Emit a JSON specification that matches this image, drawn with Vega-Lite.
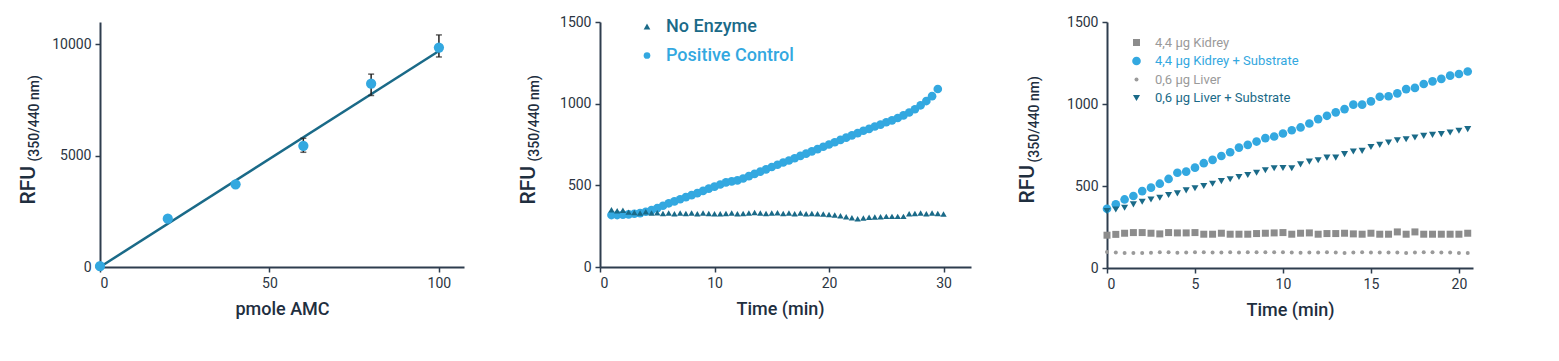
{
  "$schema": "https://vega.github.io/schema/vega-lite/v6.json",
  "background": "white",
  "padding": {"left": 17, "top": 15, "right": 5, "bottom": 5},
  "config": {
    "view": {"stroke": null},
    "font": "Roboto",
    "axis": {
      "domainColor": "#2e3d4e", "domainWidth": 2,
      "tickColor": "#2e3d4e", "tickWidth": 1.5, "tickSize": 5,
      "labelFont": "Roboto", "labelFontSize": 14, "labelColor": "#2b3542", "labelPadding": 4,
      "grid": false, "format": "d",
      "titleFont": "Roboto", "titleColor": "#1f2f3f", "titleFontWeight": 500
    },
    "axisX": {"titleFontSize": 18, "titlePadding": 10},
    "legend": {"labelFont": "Roboto", "padding": 0, "symbolStrokeWidth": 0, "title": null}
  },
  "resolve": {"scale": {"color": "independent", "shape": "independent", "size": "independent"}, "legend": {"color": "independent", "shape": "independent", "size": "independent"}},
  "datasets": {
    "std": [
      {"pmol": 0, "rfu": 40, "lo": 0, "hi": 80},
      {"pmol": 20, "rfu": 2170, "lo": 2100, "hi": 2240},
      {"pmol": 40, "rfu": 3710, "lo": 3640, "hi": 3780},
      {"pmol": 60, "rfu": 5440, "lo": 5150, "hi": 5780},
      {"pmol": 80, "rfu": 8230, "lo": 7700, "hi": 8660},
      {"pmol": 100, "rfu": 9850, "lo": 9430, "hi": 10420}
    ],
    "fit": [
      {"pmol": 0, "rfu": 0},
      {"pmol": 100, "rfu": 9700}
    ],
    "kin": [
      {"t": 1, "series": "Positive Control", "rfu": 318},
      {"t": 1.5, "series": "Positive Control", "rfu": 318},
      {"t": 2, "series": "Positive Control", "rfu": 320},
      {"t": 2.5, "series": "Positive Control", "rfu": 322},
      {"t": 3, "series": "Positive Control", "rfu": 326},
      {"t": 3.5, "series": "Positive Control", "rfu": 330},
      {"t": 4, "series": "Positive Control", "rfu": 338},
      {"t": 4.5, "series": "Positive Control", "rfu": 348},
      {"t": 5, "series": "Positive Control", "rfu": 360},
      {"t": 5.5, "series": "Positive Control", "rfu": 375},
      {"t": 6, "series": "Positive Control", "rfu": 390},
      {"t": 6.5, "series": "Positive Control", "rfu": 402},
      {"t": 7, "series": "Positive Control", "rfu": 415},
      {"t": 7.5, "series": "Positive Control", "rfu": 428},
      {"t": 8, "series": "Positive Control", "rfu": 440},
      {"t": 8.5, "series": "Positive Control", "rfu": 452},
      {"t": 9, "series": "Positive Control", "rfu": 466},
      {"t": 9.5, "series": "Positive Control", "rfu": 480},
      {"t": 10, "series": "Positive Control", "rfu": 492},
      {"t": 10.5, "series": "Positive Control", "rfu": 505},
      {"t": 11, "series": "Positive Control", "rfu": 518},
      {"t": 11.5, "series": "Positive Control", "rfu": 524},
      {"t": 12, "series": "Positive Control", "rfu": 530},
      {"t": 12.5, "series": "Positive Control", "rfu": 542},
      {"t": 13, "series": "Positive Control", "rfu": 556},
      {"t": 13.5, "series": "Positive Control", "rfu": 570},
      {"t": 14, "series": "Positive Control", "rfu": 584},
      {"t": 14.5, "series": "Positive Control", "rfu": 598},
      {"t": 15, "series": "Positive Control", "rfu": 612},
      {"t": 15.5, "series": "Positive Control", "rfu": 626},
      {"t": 16, "series": "Positive Control", "rfu": 640},
      {"t": 16.5, "series": "Positive Control", "rfu": 652},
      {"t": 17, "series": "Positive Control", "rfu": 666},
      {"t": 17.5, "series": "Positive Control", "rfu": 680},
      {"t": 18, "series": "Positive Control", "rfu": 694},
      {"t": 18.5, "series": "Positive Control", "rfu": 708},
      {"t": 19, "series": "Positive Control", "rfu": 722},
      {"t": 19.5, "series": "Positive Control", "rfu": 736},
      {"t": 20, "series": "Positive Control", "rfu": 750},
      {"t": 20.5, "series": "Positive Control", "rfu": 764},
      {"t": 21, "series": "Positive Control", "rfu": 778},
      {"t": 21.5, "series": "Positive Control", "rfu": 792},
      {"t": 22, "series": "Positive Control", "rfu": 806},
      {"t": 22.5, "series": "Positive Control", "rfu": 820},
      {"t": 23, "series": "Positive Control", "rfu": 834},
      {"t": 23.5, "series": "Positive Control", "rfu": 846},
      {"t": 24, "series": "Positive Control", "rfu": 860},
      {"t": 24.5, "series": "Positive Control", "rfu": 872},
      {"t": 25, "series": "Positive Control", "rfu": 886},
      {"t": 25.5, "series": "Positive Control", "rfu": 898},
      {"t": 26, "series": "Positive Control", "rfu": 912},
      {"t": 26.5, "series": "Positive Control", "rfu": 928},
      {"t": 27, "series": "Positive Control", "rfu": 946},
      {"t": 27.5, "series": "Positive Control", "rfu": 966},
      {"t": 28, "series": "Positive Control", "rfu": 990},
      {"t": 28.5, "series": "Positive Control", "rfu": 1016},
      {"t": 29, "series": "Positive Control", "rfu": 1046},
      {"t": 29.5, "series": "Positive Control", "rfu": 1090},
      {"t": 1, "series": "No Enzyme", "rfu": 350},
      {"t": 1.5, "series": "No Enzyme", "rfu": 344},
      {"t": 2, "series": "No Enzyme", "rfu": 348},
      {"t": 2.5, "series": "No Enzyme", "rfu": 336},
      {"t": 3, "series": "No Enzyme", "rfu": 334},
      {"t": 3.5, "series": "No Enzyme", "rfu": 330},
      {"t": 4, "series": "No Enzyme", "rfu": 338},
      {"t": 4.5, "series": "No Enzyme", "rfu": 330},
      {"t": 5, "series": "No Enzyme", "rfu": 332},
      {"t": 5.5, "series": "No Enzyme", "rfu": 328},
      {"t": 6, "series": "No Enzyme", "rfu": 330},
      {"t": 6.5, "series": "No Enzyme", "rfu": 326},
      {"t": 7, "series": "No Enzyme", "rfu": 330},
      {"t": 7.5, "series": "No Enzyme", "rfu": 328},
      {"t": 8, "series": "No Enzyme", "rfu": 330},
      {"t": 8.5, "series": "No Enzyme", "rfu": 326},
      {"t": 9, "series": "No Enzyme", "rfu": 330},
      {"t": 9.5, "series": "No Enzyme", "rfu": 328},
      {"t": 10, "series": "No Enzyme", "rfu": 326},
      {"t": 10.5, "series": "No Enzyme", "rfu": 326},
      {"t": 11, "series": "No Enzyme", "rfu": 328},
      {"t": 11.5, "series": "No Enzyme", "rfu": 330},
      {"t": 12, "series": "No Enzyme", "rfu": 326},
      {"t": 12.5, "series": "No Enzyme", "rfu": 328},
      {"t": 13, "series": "No Enzyme", "rfu": 330},
      {"t": 13.5, "series": "No Enzyme", "rfu": 334},
      {"t": 14, "series": "No Enzyme", "rfu": 330},
      {"t": 14.5, "series": "No Enzyme", "rfu": 328},
      {"t": 15, "series": "No Enzyme", "rfu": 330},
      {"t": 15.5, "series": "No Enzyme", "rfu": 332},
      {"t": 16, "series": "No Enzyme", "rfu": 328},
      {"t": 16.5, "series": "No Enzyme", "rfu": 330},
      {"t": 17, "series": "No Enzyme", "rfu": 326},
      {"t": 17.5, "series": "No Enzyme", "rfu": 330},
      {"t": 18, "series": "No Enzyme", "rfu": 326},
      {"t": 18.5, "series": "No Enzyme", "rfu": 328},
      {"t": 19, "series": "No Enzyme", "rfu": 326},
      {"t": 19.5, "series": "No Enzyme", "rfu": 324},
      {"t": 20, "series": "No Enzyme", "rfu": 322},
      {"t": 20.5, "series": "No Enzyme", "rfu": 318},
      {"t": 21, "series": "No Enzyme", "rfu": 314},
      {"t": 21.5, "series": "No Enzyme", "rfu": 308},
      {"t": 22, "series": "No Enzyme", "rfu": 302},
      {"t": 22.5, "series": "No Enzyme", "rfu": 296},
      {"t": 23, "series": "No Enzyme", "rfu": 300},
      {"t": 23.5, "series": "No Enzyme", "rfu": 304},
      {"t": 24, "series": "No Enzyme", "rfu": 306},
      {"t": 24.5, "series": "No Enzyme", "rfu": 308},
      {"t": 25, "series": "No Enzyme", "rfu": 310},
      {"t": 25.5, "series": "No Enzyme", "rfu": 310},
      {"t": 26, "series": "No Enzyme", "rfu": 310},
      {"t": 26.5, "series": "No Enzyme", "rfu": 310},
      {"t": 27, "series": "No Enzyme", "rfu": 326},
      {"t": 27.5, "series": "No Enzyme", "rfu": 328},
      {"t": 28, "series": "No Enzyme", "rfu": 330},
      {"t": 28.5, "series": "No Enzyme", "rfu": 326},
      {"t": 29, "series": "No Enzyme", "rfu": 330},
      {"t": 29.5, "series": "No Enzyme", "rfu": 328},
      {"t": 30, "series": "No Enzyme", "rfu": 324}
    ],
    "tissue": [
      {"t": 0, "series": "4,4 µg Kidrey", "rfu": 200},
      {"t": 0.5, "series": "4,4 µg Kidrey", "rfu": 205},
      {"t": 1, "series": "4,4 µg Kidrey", "rfu": 212},
      {"t": 1.5, "series": "4,4 µg Kidrey", "rfu": 216},
      {"t": 2, "series": "4,4 µg Kidrey", "rfu": 216},
      {"t": 2.5, "series": "4,4 µg Kidrey", "rfu": 212},
      {"t": 3, "series": "4,4 µg Kidrey", "rfu": 208},
      {"t": 3.5, "series": "4,4 µg Kidrey", "rfu": 216},
      {"t": 4, "series": "4,4 µg Kidrey", "rfu": 214},
      {"t": 4.5, "series": "4,4 µg Kidrey", "rfu": 214},
      {"t": 5, "series": "4,4 µg Kidrey", "rfu": 216},
      {"t": 5.5, "series": "4,4 µg Kidrey", "rfu": 206},
      {"t": 6, "series": "4,4 µg Kidrey", "rfu": 206},
      {"t": 6.5, "series": "4,4 µg Kidrey", "rfu": 212},
      {"t": 7, "series": "4,4 µg Kidrey", "rfu": 206},
      {"t": 7.5, "series": "4,4 µg Kidrey", "rfu": 206},
      {"t": 8, "series": "4,4 µg Kidrey", "rfu": 206},
      {"t": 8.5, "series": "4,4 µg Kidrey", "rfu": 210},
      {"t": 9, "series": "4,4 µg Kidrey", "rfu": 212},
      {"t": 9.5, "series": "4,4 µg Kidrey", "rfu": 214},
      {"t": 10, "series": "4,4 µg Kidrey", "rfu": 216},
      {"t": 10.5, "series": "4,4 µg Kidrey", "rfu": 206},
      {"t": 11, "series": "4,4 µg Kidrey", "rfu": 212},
      {"t": 11.5, "series": "4,4 µg Kidrey", "rfu": 214},
      {"t": 12, "series": "4,4 µg Kidrey", "rfu": 206},
      {"t": 12.5, "series": "4,4 µg Kidrey", "rfu": 210},
      {"t": 13, "series": "4,4 µg Kidrey", "rfu": 210},
      {"t": 13.5, "series": "4,4 µg Kidrey", "rfu": 212},
      {"t": 14, "series": "4,4 µg Kidrey", "rfu": 208},
      {"t": 14.5, "series": "4,4 µg Kidrey", "rfu": 206},
      {"t": 15, "series": "4,4 µg Kidrey", "rfu": 212},
      {"t": 15.5, "series": "4,4 µg Kidrey", "rfu": 206},
      {"t": 16, "series": "4,4 µg Kidrey", "rfu": 206},
      {"t": 16.5, "series": "4,4 µg Kidrey", "rfu": 220},
      {"t": 17, "series": "4,4 µg Kidrey", "rfu": 206},
      {"t": 17.5, "series": "4,4 µg Kidrey", "rfu": 220},
      {"t": 18, "series": "4,4 µg Kidrey", "rfu": 206},
      {"t": 18.5, "series": "4,4 µg Kidrey", "rfu": 206},
      {"t": 19, "series": "4,4 µg Kidrey", "rfu": 206},
      {"t": 19.5, "series": "4,4 µg Kidrey", "rfu": 206},
      {"t": 20, "series": "4,4 µg Kidrey", "rfu": 206},
      {"t": 20.5, "series": "4,4 µg Kidrey", "rfu": 212},
      {"t": 0, "series": "0,6 µg Liver", "rfu": 97},
      {"t": 0.5, "series": "0,6 µg Liver", "rfu": 94},
      {"t": 1, "series": "0,6 µg Liver", "rfu": 92},
      {"t": 1.5, "series": "0,6 µg Liver", "rfu": 92},
      {"t": 2, "series": "0,6 µg Liver", "rfu": 92},
      {"t": 2.5, "series": "0,6 µg Liver", "rfu": 93},
      {"t": 3, "series": "0,6 µg Liver", "rfu": 96},
      {"t": 3.5, "series": "0,6 µg Liver", "rfu": 96},
      {"t": 4, "series": "0,6 µg Liver", "rfu": 93},
      {"t": 4.5, "series": "0,6 µg Liver", "rfu": 94},
      {"t": 5, "series": "0,6 µg Liver", "rfu": 96},
      {"t": 5.5, "series": "0,6 µg Liver", "rfu": 96},
      {"t": 6, "series": "0,6 µg Liver", "rfu": 94},
      {"t": 6.5, "series": "0,6 µg Liver", "rfu": 94},
      {"t": 7, "series": "0,6 µg Liver", "rfu": 96},
      {"t": 7.5, "series": "0,6 µg Liver", "rfu": 94},
      {"t": 8, "series": "0,6 µg Liver", "rfu": 96},
      {"t": 8.5, "series": "0,6 µg Liver", "rfu": 96},
      {"t": 9, "series": "0,6 µg Liver", "rfu": 96},
      {"t": 9.5, "series": "0,6 µg Liver", "rfu": 96},
      {"t": 10, "series": "0,6 µg Liver", "rfu": 96},
      {"t": 10.5, "series": "0,6 µg Liver", "rfu": 95},
      {"t": 11, "series": "0,6 µg Liver", "rfu": 93},
      {"t": 11.5, "series": "0,6 µg Liver", "rfu": 94},
      {"t": 12, "series": "0,6 µg Liver", "rfu": 94},
      {"t": 12.5, "series": "0,6 µg Liver", "rfu": 96},
      {"t": 13, "series": "0,6 µg Liver", "rfu": 94},
      {"t": 13.5, "series": "0,6 µg Liver", "rfu": 92},
      {"t": 14, "series": "0,6 µg Liver", "rfu": 94},
      {"t": 14.5, "series": "0,6 µg Liver", "rfu": 96},
      {"t": 15, "series": "0,6 µg Liver", "rfu": 94},
      {"t": 15.5, "series": "0,6 µg Liver", "rfu": 94},
      {"t": 16, "series": "0,6 µg Liver", "rfu": 94},
      {"t": 16.5, "series": "0,6 µg Liver", "rfu": 94},
      {"t": 17, "series": "0,6 µg Liver", "rfu": 92},
      {"t": 17.5, "series": "0,6 µg Liver", "rfu": 94},
      {"t": 18, "series": "0,6 µg Liver", "rfu": 96},
      {"t": 18.5, "series": "0,6 µg Liver", "rfu": 96},
      {"t": 19, "series": "0,6 µg Liver", "rfu": 94},
      {"t": 19.5, "series": "0,6 µg Liver", "rfu": 94},
      {"t": 20, "series": "0,6 µg Liver", "rfu": 92},
      {"t": 20.5, "series": "0,6 µg Liver", "rfu": 92},
      {"t": 0, "series": "4,4 µg Kidrey + Substrate", "rfu": 361},
      {"t": 0.5, "series": "4,4 µg Kidrey + Substrate", "rfu": 388},
      {"t": 1, "series": "4,4 µg Kidrey + Substrate", "rfu": 418},
      {"t": 1.5, "series": "4,4 µg Kidrey + Substrate", "rfu": 439},
      {"t": 2, "series": "4,4 µg Kidrey + Substrate", "rfu": 469},
      {"t": 2.5, "series": "4,4 µg Kidrey + Substrate", "rfu": 490},
      {"t": 3, "series": "4,4 µg Kidrey + Substrate", "rfu": 514},
      {"t": 3.5, "series": "4,4 µg Kidrey + Substrate", "rfu": 543},
      {"t": 4, "series": "4,4 µg Kidrey + Substrate", "rfu": 581},
      {"t": 4.5, "series": "4,4 µg Kidrey + Substrate", "rfu": 588},
      {"t": 5, "series": "4,4 µg Kidrey + Substrate", "rfu": 612},
      {"t": 5.5, "series": "4,4 µg Kidrey + Substrate", "rfu": 639},
      {"t": 6, "series": "4,4 µg Kidrey + Substrate", "rfu": 659},
      {"t": 6.5, "series": "4,4 µg Kidrey + Substrate", "rfu": 683},
      {"t": 7, "series": "4,4 µg Kidrey + Substrate", "rfu": 706},
      {"t": 7.5, "series": "4,4 µg Kidrey + Substrate", "rfu": 734},
      {"t": 8, "series": "4,4 µg Kidrey + Substrate", "rfu": 751},
      {"t": 8.5, "series": "4,4 µg Kidrey + Substrate", "rfu": 771},
      {"t": 9, "series": "4,4 µg Kidrey + Substrate", "rfu": 792},
      {"t": 9.5, "series": "4,4 µg Kidrey + Substrate", "rfu": 802},
      {"t": 10, "series": "4,4 µg Kidrey + Substrate", "rfu": 820},
      {"t": 10.5, "series": "4,4 µg Kidrey + Substrate", "rfu": 840},
      {"t": 11, "series": "4,4 µg Kidrey + Substrate", "rfu": 857},
      {"t": 11.5, "series": "4,4 µg Kidrey + Substrate", "rfu": 881},
      {"t": 12, "series": "4,4 µg Kidrey + Substrate", "rfu": 908},
      {"t": 12.5, "series": "4,4 µg Kidrey + Substrate", "rfu": 928},
      {"t": 13, "series": "4,4 µg Kidrey + Substrate", "rfu": 949},
      {"t": 13.5, "series": "4,4 µg Kidrey + Substrate", "rfu": 969},
      {"t": 14, "series": "4,4 µg Kidrey + Substrate", "rfu": 996},
      {"t": 14.5, "series": "4,4 µg Kidrey + Substrate", "rfu": 996},
      {"t": 15, "series": "4,4 µg Kidrey + Substrate", "rfu": 1016},
      {"t": 15.5, "series": "4,4 µg Kidrey + Substrate", "rfu": 1044},
      {"t": 16, "series": "4,4 µg Kidrey + Substrate", "rfu": 1047},
      {"t": 16.5, "series": "4,4 µg Kidrey + Substrate", "rfu": 1065},
      {"t": 17, "series": "4,4 µg Kidrey + Substrate", "rfu": 1091},
      {"t": 17.5, "series": "4,4 µg Kidrey + Substrate", "rfu": 1098},
      {"t": 18, "series": "4,4 µg Kidrey + Substrate", "rfu": 1122},
      {"t": 18.5, "series": "4,4 µg Kidrey + Substrate", "rfu": 1138},
      {"t": 19, "series": "4,4 µg Kidrey + Substrate", "rfu": 1153},
      {"t": 19.5, "series": "4,4 µg Kidrey + Substrate", "rfu": 1173},
      {"t": 20, "series": "4,4 µg Kidrey + Substrate", "rfu": 1183},
      {"t": 20.5, "series": "4,4 µg Kidrey + Substrate", "rfu": 1198},
      {"t": 0, "series": "0,6 µg Liver + Substrate", "rfu": 347},
      {"t": 0.5, "series": "0,6 µg Liver + Substrate", "rfu": 357},
      {"t": 1, "series": "0,6 µg Liver + Substrate", "rfu": 367},
      {"t": 1.5, "series": "0,6 µg Liver + Substrate", "rfu": 388},
      {"t": 2, "series": "0,6 µg Liver + Substrate", "rfu": 404},
      {"t": 2.5, "series": "0,6 µg Liver + Substrate", "rfu": 418},
      {"t": 3, "series": "0,6 µg Liver + Substrate", "rfu": 428},
      {"t": 3.5, "series": "0,6 µg Liver + Substrate", "rfu": 445},
      {"t": 4, "series": "0,6 µg Liver + Substrate", "rfu": 455},
      {"t": 4.5, "series": "0,6 µg Liver + Substrate", "rfu": 473},
      {"t": 5, "series": "0,6 µg Liver + Substrate", "rfu": 486},
      {"t": 5.5, "series": "0,6 µg Liver + Substrate", "rfu": 500},
      {"t": 6, "series": "0,6 µg Liver + Substrate", "rfu": 514},
      {"t": 6.5, "series": "0,6 µg Liver + Substrate", "rfu": 530},
      {"t": 7, "series": "0,6 µg Liver + Substrate", "rfu": 541},
      {"t": 7.5, "series": "0,6 µg Liver + Substrate", "rfu": 555},
      {"t": 8, "series": "0,6 µg Liver + Substrate", "rfu": 567},
      {"t": 8.5, "series": "0,6 µg Liver + Substrate", "rfu": 581},
      {"t": 9, "series": "0,6 µg Liver + Substrate", "rfu": 596},
      {"t": 9.5, "series": "0,6 µg Liver + Substrate", "rfu": 608},
      {"t": 10, "series": "0,6 µg Liver + Substrate", "rfu": 610},
      {"t": 10.5, "series": "0,6 µg Liver + Substrate", "rfu": 608},
      {"t": 11, "series": "0,6 µg Liver + Substrate", "rfu": 632},
      {"t": 11.5, "series": "0,6 µg Liver + Substrate", "rfu": 649},
      {"t": 12, "series": "0,6 µg Liver + Substrate", "rfu": 657},
      {"t": 12.5, "series": "0,6 µg Liver + Substrate", "rfu": 673},
      {"t": 13, "series": "0,6 µg Liver + Substrate", "rfu": 673},
      {"t": 13.5, "series": "0,6 µg Liver + Substrate", "rfu": 694},
      {"t": 14, "series": "0,6 µg Liver + Substrate", "rfu": 710},
      {"t": 14.5, "series": "0,6 µg Liver + Substrate", "rfu": 714},
      {"t": 15, "series": "0,6 µg Liver + Substrate", "rfu": 738},
      {"t": 15.5, "series": "0,6 µg Liver + Substrate", "rfu": 751},
      {"t": 16, "series": "0,6 µg Liver + Substrate", "rfu": 765},
      {"t": 16.5, "series": "0,6 µg Liver + Substrate", "rfu": 779},
      {"t": 17, "series": "0,6 µg Liver + Substrate", "rfu": 785},
      {"t": 17.5, "series": "0,6 µg Liver + Substrate", "rfu": 796},
      {"t": 18, "series": "0,6 µg Liver + Substrate", "rfu": 806},
      {"t": 18.5, "series": "0,6 µg Liver + Substrate", "rfu": 812},
      {"t": 19, "series": "0,6 µg Liver + Substrate", "rfu": 816},
      {"t": 19.5, "series": "0,6 µg Liver + Substrate", "rfu": 826},
      {"t": 20, "series": "0,6 µg Liver + Substrate", "rfu": 837},
      {"t": 20.5, "series": "0,6 µg Liver + Substrate", "rfu": 847}
    ]
  },
  "hconcat": [
    {
      "width": 364,
      "height": 245,
      "resolve": {"axis": {"y": "independent"}},
      "layer": [
        {
          "data": {"name": "fit"},
          "mark": {"type": "line", "color": "#1a6a88", "strokeWidth": 2.5},
          "encoding": {
            "x": {"field": "pmol", "type": "quantitative", "scale": {"domain": [0, 107.4], "nice": false}, "axis": {"title": "pmole AMC", "values": [0, 50, 100]}},
            "y": {"field": "rfu", "type": "quantitative", "scale": {"domain": [0, 11000], "nice": false}, "axis": {"title": "RFU", "values": [0, 5000, 10000], "titleFontSize": 21, "titleAngle": 270, "titleAlign": "left", "titleBaseline": "alphabetic", "titleX": -66, "titleY": 182}}
          }
        },
        {
          "data": {"name": "std"},
          "mark": {"type": "errorbar", "ticks": {"size": 6}, "thickness": 1.5, "color": "#222222"},
          "encoding": {
            "x": {"field": "pmol", "type": "quantitative"},
            "y": {"field": "lo", "type": "quantitative", "axis": null},
            "y2": {"field": "hi"}
          }
        },
        {
          "data": {"name": "std"},
          "mark": {"type": "point", "filled": true, "opacity": 1, "size": 105, "color": "#33a8e0"},
          "encoding": {
            "x": {"field": "pmol", "type": "quantitative"},
            "y": {"field": "rfu", "type": "quantitative", "axis": {"orient": "left", "title": "(350/440 nm)", "labels": false, "ticks": false, "domain": false, "titleFontSize": 14, "titleAngle": 270, "titleAlign": "left", "titleBaseline": "alphabetic", "titleX": -62, "titleY": 139}}
          }
        }
      ]
    },
    {
      "width": 371,
      "height": 245,
      "data": {"name": "kin"},
      "resolve": {"axis": {"y": "independent"}},
      "layer": [
        {
          "transform": [{"filter": {"field": "series", "equal": "Positive Control"}}],
          "mark": {"type": "point", "filled": true, "opacity": 1, "size": 75},
          "encoding": {
            "x": {"field": "t", "type": "quantitative", "scale": {"domain": [0, 32.4], "nice": false}, "axis": {"title": "Time (min)", "values": [0, 10, 20, 30], "titleX": 180}},
            "y": {"field": "rfu", "type": "quantitative", "scale": {"domain": [0, 1500], "nice": false}, "axis": {"title": "RFU", "values": [0, 500, 1000, 1500], "titleFontSize": 21, "titleAngle": 270, "titleAlign": "left", "titleBaseline": "alphabetic", "titleX": -66, "titleY": 182}},
            "color": {"field": "series", "type": "nominal", "scale": {"domain": ["No Enzyme", "Positive Control"], "range": ["#1a6a88", "#33a8e0"]},
              "legend": {"orient": "none", "legendX": 38, "legendY": -4.5, "labelFontSize": 18, "labelFontWeight": 500, "symbolSize": 45, "rowPadding": 11, "labelOffset": 10,
                "labelColor": {"expr": "datum.label === 'No Enzyme' ? '#1a6a88' : '#33a8e0'"}}},
            "shape": {"field": "series", "type": "nominal", "scale": {"domain": ["No Enzyme", "Positive Control"], "range": ["triangle-up", "circle"]}}
          }
        },
        {
          "transform": [{"filter": {"field": "series", "equal": "No Enzyme"}}],
          "mark": {"type": "point", "filled": true, "opacity": 1, "size": 40},
          "encoding": {
            "x": {"field": "t", "type": "quantitative"},
            "y": {"field": "rfu", "type": "quantitative", "axis": {"orient": "left", "title": "(350/440 nm)", "labels": false, "ticks": false, "domain": false, "titleFontSize": 14, "titleAngle": 270, "titleAlign": "left", "titleBaseline": "alphabetic", "titleX": -62, "titleY": 139}},
            "color": {"field": "series", "type": "nominal"},
            "shape": {"field": "series", "type": "nominal"}
          }
        }
      ]
    },
    {
      "width": 366,
      "height": 246,
      "data": {"name": "tissue"},
      "resolve": {"axis": {"y": "independent"}},
      "layer": [
        {
          "transform": [{"filter": {"field": "series", "oneOf": ["4,4 µg Kidrey", "0,6 µg Liver"]}}],
          "mark": {"type": "point", "filled": true, "opacity": 1},
          "encoding": {
            "x": {"field": "t", "type": "quantitative", "scale": {"domain": [0, 20.8], "nice": false}, "axis": {"title": "Time (min)", "values": [0, 5, 10, 15, 20]}},
            "y": {"field": "rfu", "type": "quantitative", "scale": {"domain": [0, 1500], "nice": false}, "axis": {"title": "RFU", "values": [0, 500, 1000, 1500], "titleFontSize": 21, "titleAngle": 270, "titleAlign": "left", "titleBaseline": "alphabetic", "titleX": -74, "titleY": 181}},
            "color": {"field": "series", "type": "nominal", "scale": {"domain": ["4,4 µg Kidrey", "4,4 µg Kidrey + Substrate", "0,6 µg Liver", "0,6 µg Liver + Substrate"], "range": ["#8c8c8c", "#33a8e0", "#9a9a9a", "#1a6a88"]},
              "legend": {"orient": "none", "legendX": 23, "legendY": 14, "labelFontSize": 13, "rowPadding": 4.5, "labelOffset": 12,
                "labelColor": {"expr": "datum.label === '4,4 µg Kidrey + Substrate' ? '#33a8e0' : (datum.label === '0,6 µg Liver + Substrate' ? '#1a6a88' : '#9a9a9a')"}}},
            "shape": {"field": "series", "type": "nominal", "scale": {"domain": ["4,4 µg Kidrey", "4,4 µg Kidrey + Substrate", "0,6 µg Liver", "0,6 µg Liver + Substrate"], "range": ["square", "circle", "circle", "triangle-down"]}},
            "size": {"field": "series", "type": "nominal", "scale": {"type": "ordinal", "domain": ["4,4 µg Kidrey", "4,4 µg Kidrey + Substrate", "0,6 µg Liver", "0,6 µg Liver + Substrate"], "range": [49, 75, 16, 50]}}
          }
        },
        {
          "transform": [{"filter": {"field": "series", "oneOf": ["4,4 µg Kidrey + Substrate", "0,6 µg Liver + Substrate"]}}],
          "mark": {"type": "point", "filled": true, "opacity": 1},
          "encoding": {
            "x": {"field": "t", "type": "quantitative"},
            "y": {"field": "rfu", "type": "quantitative", "axis": {"orient": "left", "title": "(350/440 nm)", "labels": false, "ticks": false, "domain": false, "titleFontSize": 14, "titleAngle": 270, "titleAlign": "left", "titleBaseline": "alphabetic", "titleX": -69, "titleY": 140}},
            "color": {"field": "series", "type": "nominal", "scale": {"domain": ["4,4 µg Kidrey", "4,4 µg Kidrey + Substrate", "0,6 µg Liver", "0,6 µg Liver + Substrate"], "range": ["#8c8c8c", "#33a8e0", "#9a9a9a", "#1a6a88"]}},
            "shape": {"field": "series", "type": "nominal", "scale": {"domain": ["4,4 µg Kidrey", "4,4 µg Kidrey + Substrate", "0,6 µg Liver", "0,6 µg Liver + Substrate"], "range": ["square", "circle", "circle", "triangle-down"]}},
            "size": {"field": "series", "type": "nominal", "scale": {"type": "ordinal", "domain": ["4,4 µg Kidrey", "4,4 µg Kidrey + Substrate", "0,6 µg Liver", "0,6 µg Liver + Substrate"], "range": [49, 75, 16, 50]}}
          }
        }
      ]
    }
  ],
  "spacing": 136,
  "bounds": "flush"
}
